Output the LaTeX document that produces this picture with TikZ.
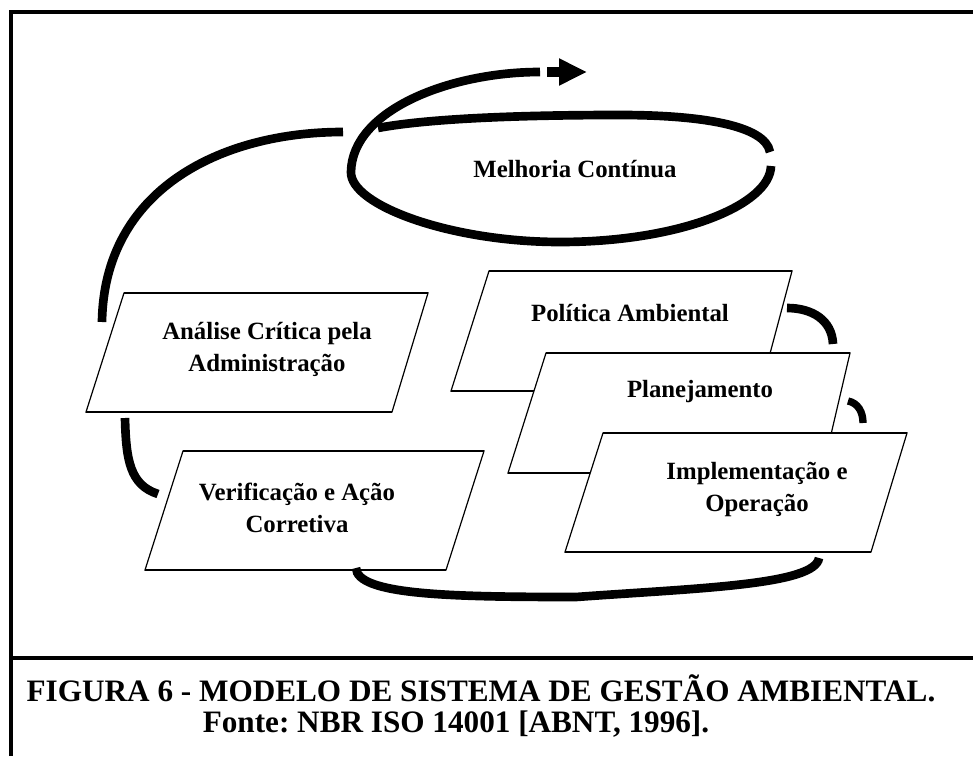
\documentclass[tikz,border=0pt]{standalone}
\usepackage{fontspec}
\setmainfont{Liberation Serif}
\usetikzlibrary{arrows.meta}
\frenchspacing
\tikzset{
	caixa/.style={draw,fill=white,line width=0.9pt},
	borda/.style={line width=2.2pt},
	seta/.style={line width=6.5pt},
	rotulo/.style={font=\bfseries\fontsize{18.6}{24}\selectfont,align=center},
	legenda/.style={font=\bfseries\fontsize{23.4}{28}\selectfont},
}
\begin{document}
\begin{tikzpicture}[x=0.75pt,y=-0.75pt]
			\useasboundingbox(0,0)rectangle(973,756);
			% moldura
			\draw[line width=3pt](10.5,756)--(10.5,12.5)--(973,12.5);
			\draw[line width=3pt](10.5,658)--(973,658);
			% caixas
			\filldraw[caixa](124,293)coordinate(a1)--(428,293)coordinate(a2)
				--(392,412)coordinate(a3)--(86,412)coordinate(a4)--cycle;
			\draw[borda](a1)--(a2)(a4)--(a3);
			\node[rotulo](ana)at(267,349){Análise Crítica pela\\Administração};
			\filldraw[caixa](183,451)coordinate(v1)--(484,451)coordinate(v2)
				--(446,570)coordinate(v3)--(145,570)coordinate(v4)--cycle;
			\draw[borda](v1)--(v2)(v4)--(v3);
			\node[rotulo](ver)at(297,508){Verificação e Ação\\Corretiva};
			\filldraw[caixa](489,271)coordinate(p1)--(792,271)coordinate(p2)
				--(760,391)coordinate(p3)--(451,391)coordinate(p4)--cycle;
			\draw[borda](p1)--(p2)(p4)--(p3);
			\node[rotulo](pol)at(630,313){Política Ambiental};
			\filldraw[caixa](546,353)coordinate(l1)--(850,353)coordinate(l2)
				--(822,473)coordinate(l3)--(508,473)coordinate(l4)--cycle;
			\draw[borda](l1)--(l2)(l4)--(l3);
			\node[rotulo](pla)at(700,392){Planejamento};
			\filldraw[caixa](603,433)coordinate(i1)--(907,433)coordinate(i2)
				--(871,552)coordinate(i3)--(565,552)coordinate(i4)--cycle;
			\draw[borda](i1)--(i2)(i4)--(i3);
			\node[rotulo](imp)at(757,489){Implementação e\\Operação};
			\node[rotulo](mel)at(575,169){Melhoria Contínua};
			% ligacoes
			\coordinate(s1)at(787,308);\coordinate(e1)at(833,344);
			\coordinate(s2)at(848,401);\coordinate(e2)at(863,423);
			\coordinate(s3)at(819,558);\coordinate(m3)at(576,597);\coordinate(e3)at(356,568);
			\coordinate(s4)at(158,494);\coordinate(e4)at(125,418);
			\coordinate(s5)at(102,322);\coordinate(e5)at(343,132);
			\draw[seta](s1)..controls(812,308)and(832,320)..(e1);
			\draw[line width=5.5pt](s2)..controls(858,403)and(863,412)..(e2);
			\draw[seta](s3)..controls(815,585)and(700,588)..(m3)
				..controls(450,597)and(357,595)..(e3);
			\draw[seta](s4)..controls(130,485)and(126,460)..(e4);
			\draw[seta](s5)..controls(104,190)and(220,132)..(e5);
			% elipse da melhoria
			\coordinate(m1)at(771,166);\coordinate(m2)at(540,72);
			\coordinate(t1)at(770,152);\coordinate(t2)at(378,128);
			\draw[seta](m1)..controls(770,205)and(680,242)..(560,242)
				..controls(450,242)and(350,205)..(351,172)
				..controls(352,110)and(450,72)..(m2);
			\draw[seta](t1)..controls(765,125)and(700,115)..(620,115)
				..controls(500,115)and(420,120)..(t2);
			\coordinate(f1)at(547,72);\coordinate(f2)at(587,72);
			\draw[line width=7pt,-{Triangle[length=21pt,width=19pt]}](f1)--(f2);
			% legenda
			\node[legenda](leg1)at(481,688){FIGURA 6 - MODELO DE SISTEMA DE GESTÃO AMBIENTAL.};
			\node[legenda](leg2)at(456,724){Fonte: NBR ISO 14001 [ABNT, 1996].};
\end{tikzpicture}
\end{document}
